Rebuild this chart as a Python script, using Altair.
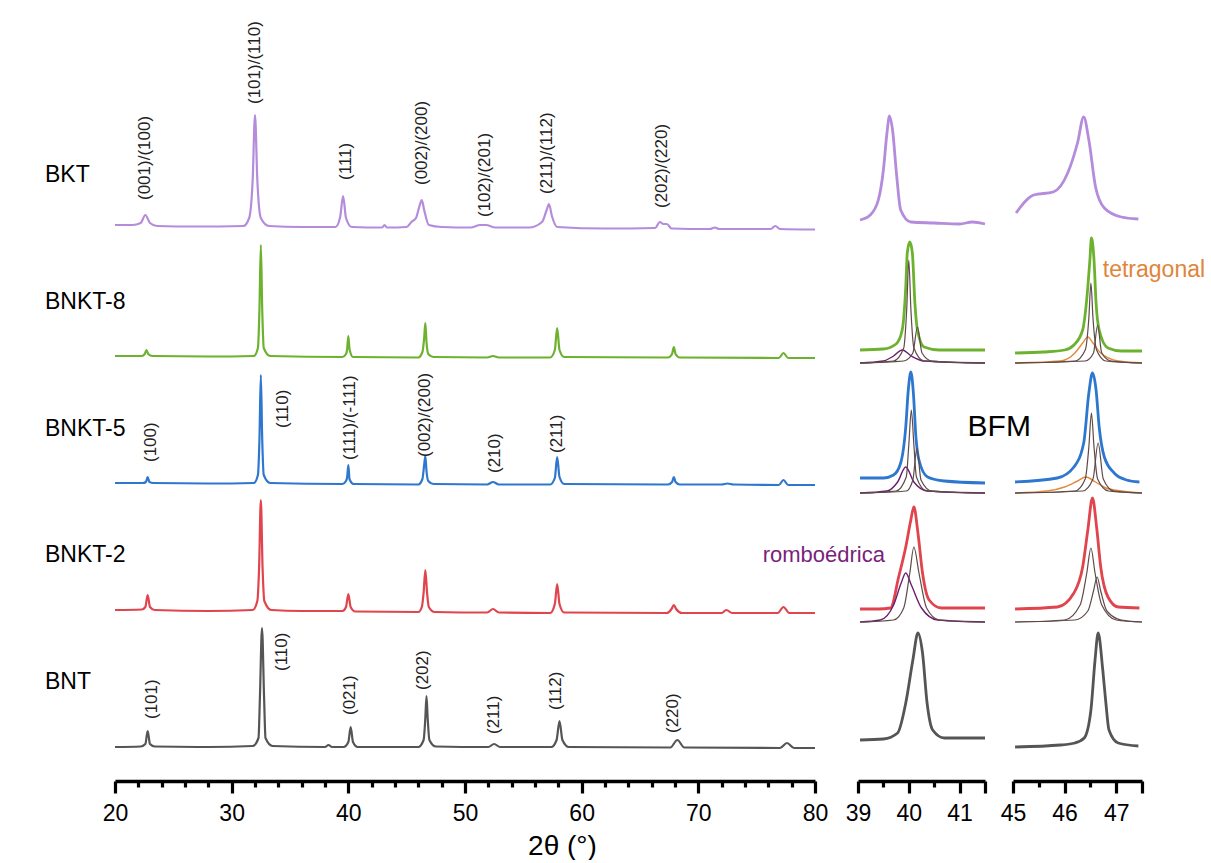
import altair as alt
import pandas as pd

# ---------------- samples ----------------
SAMPLES = ["BKT", "BNKT-8", "BNKT-5", "BNKT-2", "BNT"]
OFFSETS = [518, 390, 263, 135, 0]          # vertical stacking offset (a.u.)
COLORS = ["#b48cdb", "#6db22e", "#2e77cf", "#e0444c", "#555555"]
LABEL_Y = [573, 446, 319, 193, 66]

# ---------------- main panel patterns (2theta, intensity a.u.) ----------------
BKT_X = [20.0, 21.5, 22.2, 22.6, 23.0, 23.6, 27.0, 31.0, 31.5, 31.8, 32.0, 32.2, 32.5, 33.2, 36.0,
         38.9, 39.3, 39.55, 39.8, 40.3, 42.9, 43.1, 43.3, 45.0, 45.4, 45.8, 46.1, 46.3, 46.5, 46.9,
         48.0, 50.5, 51.3, 51.8, 52.6, 55.5, 56.6, 57.0, 57.2, 57.45, 57.9, 62.0, 66.3, 66.7, 67.0,
         67.3, 67.7, 71.0, 71.4, 71.8, 76.2, 76.6, 77.0, 80.0]
BKT_Y = [5, 5, 7, 15, 7, 4, 3.5, 4, 12, 50, 115, 50, 12, 4, 3,
         3, 13, 34, 12, 3, 2.5, 5, 2.5, 3, 8, 12, 24, 30, 20, 5,
         3, 2.5, 5, 5, 2.5, 2.5, 8, 20, 26, 14, 3, 1.5, 2, 8, 6,
         6, 1.5, 1, 2.5, 1, 1, 4, 1, 0.5]

B8_X = [20.0, 22.3, 22.55, 22.7, 22.85, 23.2, 28.0, 31.9, 32.25, 32.38, 32.5, 32.62, 32.75, 33.3,
        39.5, 39.8, 39.9, 40.0, 40.1, 40.4, 46.0, 46.35, 46.5, 46.6, 46.7, 46.85, 47.3, 51.9, 52.4,
        52.9, 57.3, 57.7, 57.9, 58.1, 58.5, 67.4, 67.75, 67.9, 68.05, 68.4, 76.9, 77.3, 77.7, 80.0]
B8_Y = [2, 2, 4, 8, 4, 2, 1.5, 2, 10, 48, 113, 48, 10, 2,
        1, 4, 9, 22, 9, 1, 0.5, 6, 20, 35, 16, 4, 1, 0.5, 2,
        0.5, 0.5, 8, 30, 8, 1, 0.5, 4, 11, 4, 0.5, 0, 5, 0, 0]

B5_X = [20.0, 22.4, 22.65, 22.8, 22.95, 23.3, 28.0, 31.9, 32.25, 32.38, 32.5, 32.62, 32.75, 33.3,
        39.5, 39.8, 39.9, 40.0, 40.1, 40.45, 46.0, 46.35, 46.5, 46.6, 46.7, 46.85, 47.3, 51.9, 52.4,
        52.9, 57.3, 57.7, 57.9, 58.1, 58.5, 67.4, 67.75, 67.9, 68.05, 68.4, 72.0, 72.5, 73.0, 76.9,
        77.3, 77.7, 80.0]
B5_Y = [2, 2, 3, 8, 3, 2, 1.5, 2, 10, 45, 110, 45, 10, 2,
        1, 4, 8, 20, 6, 1, 0.5, 6, 20, 29, 14, 4, 1, 0.5, 3,
        0.5, 0.5, 7, 28, 8, 1, 0.5, 3, 8, 3, 0.5, 0.5, 1.5, 0.5, 0,
        5, 0, 0]

B2_X = [20.0, 22.3, 22.6, 22.8, 23.0, 23.4, 28.0, 31.8, 32.2, 32.35, 32.5, 32.65, 32.8, 33.4, 36.0,
        39.5, 39.8, 40.0, 40.2, 40.6, 46.0, 46.3, 46.45, 46.6, 46.75, 46.9, 47.4, 51.9, 52.4, 52.9,
        57.3, 57.7, 57.9, 58.1, 58.5, 67.3, 67.7, 67.9, 68.1, 68.6, 72.0, 72.4, 72.9, 76.8, 77.3,
        77.8, 80.0]
B2_Y = [3, 3.5, 6, 18, 6, 3, 2, 3, 12, 45, 113, 45, 12, 3, 2,
        2, 6, 19, 6, 1.5, 1, 6, 20, 43, 20, 6, 1, 0.5, 4, 0.5,
        0, 9, 29, 9, 0.5, 0, 4, 8, 4, 0, 0, 3, 0, 0, 6,
        0, 0]

BNT_X = [20.0, 22.2, 22.6, 22.8, 23.0, 23.4, 28.0, 31.8, 32.3, 32.42, 32.6, 32.78, 32.9, 33.5,
         38.0, 38.3, 38.6, 39.6, 40.0, 40.2, 40.4, 40.8, 46.0, 46.45, 46.6, 46.7, 46.8, 46.95, 47.5,
         52.0, 52.5, 53.0, 57.4, 57.85, 58.1, 58.35, 58.9, 67.6, 68.2, 68.8, 77.0, 77.6, 78.2, 80.0]
BNT_Y = [1, 1.5, 4, 17, 4, 1.5, 1, 2, 10, 50, 120, 50, 10, 2,
         1, 3, 1, 1, 6, 21, 6, 1, 1, 8, 30, 52, 30, 8, 1.5,
         1, 4, 1, 1, 8, 27, 8, 1, 0.5, 8, 0.5, 0, 5, 0, 0]

# ---------------- zoom panel 1 (39 - 41.5) ----------------
P1_BKT_X = [39.04, 39.24, 39.4, 39.5, 39.57, 39.62, 39.68, 39.76, 39.84, 40.04, 40.5, 41.0, 41.25, 41.5]
P1_BKT_Y = [10, 15, 30, 60, 97, 114, 100, 55, 20, 8, 7, 6, 8, 6]
P1_B8_X = [39.04, 39.5, 39.75, 39.87, 39.94, 39.97, 40.02, 40.07, 40.12, 40.17, 40.3, 40.6, 41.0, 41.5]
P1_B8_Y = [8, 9, 14, 28, 71, 105, 116, 105, 55, 28, 11, 8, 8, 8]
P1_B8_R_X = [39.04, 39.5, 39.7, 39.87, 40.05, 40.3, 41.5]
P1_B8_R_Y = [-5, -3, 2, 8, 2, -3, -5]
P1_B8_G1_X = [39.04, 39.7, 39.9, 39.96, 40.0, 40.04, 40.1, 40.3, 41.5]
P1_B8_G1_Y = [-5, -3, 10, 50, 98, 50, 10, -3, -5]
P1_B8_G2_X = [39.04, 39.9, 40.08, 40.17, 40.26, 40.45, 41.5]
P1_B8_G2_Y = [-5, -3, 5, 31, 5, -3, -5]
P1_B5_X = [39.04, 39.5, 39.7, 39.84, 39.94, 39.99, 40.04, 40.09, 40.14, 40.2, 40.37, 40.7, 41.5]
P1_B5_Y = [7, 7, 10, 22, 58, 95, 113, 92, 48, 25, 8, 4, 2]
P1_B5_R_X = [39.04, 39.57, 39.78, 39.94, 40.1, 40.37, 41.5]
P1_B5_R_Y = [-8, -6, 3, 18, 3, -6, -8]
P1_B5_G1_X = [39.04, 39.75, 39.95, 40.0, 40.05, 40.1, 40.15, 40.35, 41.5]
P1_B5_G1_Y = [-8, -6, 8, 40, 75, 40, 8, -6, -8]
P1_B5_G2_X = [39.04, 39.95, 40.08, 40.16, 40.24, 40.45, 41.5]
P1_B5_G2_Y = [-8, -6, 5, 37, 5, -6, -8]
P1_B2_X = [39.04, 39.4, 39.64, 39.8, 39.94, 40.04, 40.1, 40.18, 40.27, 40.4, 40.64, 41.0, 41.5]
P1_B2_Y = [4, 4, 5, 36, 66, 93, 106, 80, 40, 13, 5, 5, 5]
P1_B2_R_X = [39.04, 39.44, 39.7, 39.85, 39.94, 40.05, 40.25, 40.57, 41.5]
P1_B2_R_Y = [-9, -7, 8, 30, 40, 28, 5, -7, -9]
P1_B2_G1_X = [39.04, 39.7, 39.9, 40.02, 40.1, 40.2, 40.35, 40.6, 41.5]
P1_B2_G1_Y = [-9, -7, 5, 40, 66, 40, 5, -7, -9]
P1_BNT_X = [39.04, 39.5, 39.78, 39.94, 40.08, 40.18, 40.27, 40.36, 40.47, 40.7, 41.5]
P1_BNT_Y = [8, 9, 15, 45, 88, 115, 95, 45, 18, 10, 10]

# ---------------- zoom panel 2 (45 - 47.5) ----------------
P2_BKT_X = [45.06, 45.4, 45.78, 46.06, 46.25, 46.37, 46.47, 46.6, 46.77, 47.1, 47.43]
P2_BKT_Y = [17, 35, 38, 57, 87, 113, 90, 43, 22, 13, 11]
P2_B8_X = [45.04, 45.6, 46.0, 46.18, 46.35, 46.45, 46.49, 46.52, 46.57, 46.61, 46.67, 46.84, 47.1, 47.5]
P2_B8_Y = [5, 6, 8, 13, 28, 71, 98, 120, 98, 55, 28, 10, 7, 7]
P2_B8_T_X = [45.04, 45.92, 46.2, 46.35, 46.45, 46.55, 46.7, 47.04, 47.5]
P2_B8_T_Y = [-5, -3, 5, 15, 21, 15, 5, -3, -5]
P2_B8_G1_X = [45.04, 46.2, 46.4, 46.47, 46.51, 46.55, 46.62, 46.8, 47.5]
P2_B8_G1_Y = [-5, -3, 8, 40, 75, 40, 8, -3, -5]
P2_B8_G2_X = [45.04, 46.4, 46.56, 46.64, 46.72, 46.9, 47.5]
P2_B8_G2_Y = [-5, -3, 5, 33, 5, -3, -5]
P2_B5_X = [45.04, 45.86, 46.18, 46.37, 46.47, 46.54, 46.61, 46.67, 46.77, 46.96, 47.2, 47.45]
P2_B5_Y = [3, 7, 18, 42, 92, 112, 95, 58, 28, 12, 5, 3]
P2_B5_T_X = [45.04, 45.66, 46.0, 46.25, 46.41, 46.6, 46.8, 47.1, 47.5]
P2_B5_T_Y = [-8, -6, -2, 4, 8, 3, -3, -6, -8]
P2_B5_G1_X = [45.04, 46.2, 46.4, 46.47, 46.52, 46.57, 46.64, 46.85, 47.5]
P2_B5_G1_Y = [-8, -6, 6, 38, 72, 38, 6, -6, -8]
P2_B5_G2_X = [45.04, 46.35, 46.55, 46.65, 46.75, 46.95, 47.5]
P2_B5_G2_Y = [-8, -6, 6, 42, 6, -6, -8]
P2_B2_X = [45.04, 45.86, 46.18, 46.35, 46.45, 46.54, 46.62, 46.7, 46.84, 47.04, 47.45]
P2_B2_Y = [4, 6, 20, 46, 83, 115, 86, 46, 16, 6, 5]
P2_B2_G1_X = [45.04, 46.0, 46.3, 46.43, 46.51, 46.59, 46.72, 47.0, 47.5]
P2_B2_G1_Y = [-9, -7, 8, 40, 65, 40, 8, -7, -9]
P2_B2_G2_X = [45.04, 46.2, 46.45, 46.56, 46.63, 46.7, 46.82, 47.1, 47.5]
P2_B2_G2_Y = [-9, -7, 2, 22, 36, 22, 2, -7, -9]
P2_BNT_X = [45.04, 45.92, 46.2, 46.38, 46.51, 46.59, 46.65, 46.74, 46.8, 46.86, 47.04, 47.43]
P2_BNT_Y = [1, 3, 5, 10, 38, 88, 115, 78, 45, 18, 5, 2]

# ---------------- peak (hkl) labels ----------------
BKT_HKL = ["(001)/(100)", "(101)/(110)", "(111)", "(002)/(200)", "(102)/(201)", "(211)/(112)", "(202)/(220)"]
BKT_HKL_X = [22.6, 32.0, 39.8, 46.3, 51.7, 57.0, 66.9]
BKT_HKL_Y = [548, 644, 568, 563, 531, 554, 540]
B5_HKL = ["(100)", "(110)", "(111)/(-111)", "(002)/(200)", "(210)", "(211)"]
B5_HKL_X = [23.1, 34.4, 40.1, 46.6, 52.6, 57.85]
B5_HKL_Y = [286, 320, 288, 291, 275, 295]
BNT_HKL = ["(101)", "(110)", "(021)", "(202)", "(211)", "(112)", "(220)"]
BNT_HKL_X = [23.2, 34.3, 40.1, 46.4, 52.5, 57.8, 67.8]
BNT_HKL_Y = [29, 77, 33, 58, 14, 38, 15]

RHOMBO_COLOR = "#6b1d6e"
TETRA_COLOR = "#e3893a"
FIT_COLOR = "#5e4b49"

FONT = "Liberation Sans"

# ---------------- build tables ----------------
def sample_color(s):
    return COLORS[SAMPLES.index(s)]

CURVES = [
    ("main", "BKT", "trace", BKT_X, BKT_Y),
    ("main", "BNKT-8", "trace", B8_X, B8_Y),
    ("main", "BNKT-5", "trace", B5_X, B5_Y),
    ("main", "BNKT-2", "trace", B2_X, B2_Y),
    ("main", "BNT", "trace", BNT_X, BNT_Y),
    ("p1", "BKT", "trace", P1_BKT_X, P1_BKT_Y),
    ("p1", "BNKT-8", "trace", P1_B8_X, P1_B8_Y),
    ("p1", "BNKT-8", "rhombo", P1_B8_R_X, P1_B8_R_Y),
    ("p1", "BNKT-8", "fit1", P1_B8_G1_X, P1_B8_G1_Y),
    ("p1", "BNKT-8", "fit2", P1_B8_G2_X, P1_B8_G2_Y),
    ("p1", "BNKT-5", "trace", P1_B5_X, P1_B5_Y),
    ("p1", "BNKT-5", "rhombo", P1_B5_R_X, P1_B5_R_Y),
    ("p1", "BNKT-5", "fit1", P1_B5_G1_X, P1_B5_G1_Y),
    ("p1", "BNKT-5", "fit2", P1_B5_G2_X, P1_B5_G2_Y),
    ("p1", "BNKT-2", "trace", P1_B2_X, P1_B2_Y),
    ("p1", "BNKT-2", "rhombo", P1_B2_R_X, P1_B2_R_Y),
    ("p1", "BNKT-2", "fit1", P1_B2_G1_X, P1_B2_G1_Y),
    ("p1", "BNT", "trace", P1_BNT_X, P1_BNT_Y),
    ("p2", "BKT", "trace", P2_BKT_X, P2_BKT_Y),
    ("p2", "BNKT-8", "trace", P2_B8_X, P2_B8_Y),
    ("p2", "BNKT-8", "tetra", P2_B8_T_X, P2_B8_T_Y),
    ("p2", "BNKT-8", "fit1", P2_B8_G1_X, P2_B8_G1_Y),
    ("p2", "BNKT-8", "fit2", P2_B8_G2_X, P2_B8_G2_Y),
    ("p2", "BNKT-5", "trace", P2_B5_X, P2_B5_Y),
    ("p2", "BNKT-5", "tetra", P2_B5_T_X, P2_B5_T_Y),
    ("p2", "BNKT-5", "fit1", P2_B5_G1_X, P2_B5_G1_Y),
    ("p2", "BNKT-5", "fit2", P2_B5_G2_X, P2_B5_G2_Y),
    ("p2", "BNKT-2", "trace", P2_B2_X, P2_B2_Y),
    ("p2", "BNKT-2", "fit1", P2_B2_G1_X, P2_B2_G1_Y),
    ("p2", "BNKT-2", "fit2", P2_B2_G2_X, P2_B2_G2_Y),
    ("p2", "BNT", "trace", P2_BNT_X, P2_BNT_Y),
]

rows = []
for panel, sample, kind, xs, ys in CURVES:
    off = OFFSETS[SAMPLES.index(sample)]
    if kind == "trace":
        col = sample_color(sample)
        sw = 2.2 if panel == "main" else 2.8
        layer = 0
    elif kind == "rhombo":
        col, sw, layer = RHOMBO_COLOR, 1.4, 1
    elif kind == "tetra":
        col, sw, layer = TETRA_COLOR, 1.4, 1
    else:
        col, sw, layer = FIT_COLOR, 1.2, 1
    for xv, yv in zip(xs, ys):
        rows.append(dict(panel=panel, curve=f"{panel}-{sample}-{kind}", theta=xv,
                         val=off + yv, col=col, sw=sw, layer=layer))
df = pd.DataFrame(rows)

side_df = pd.DataFrame({"label": SAMPLES, "theta": [14.0] * 5, "val": LABEL_Y})

hkl_rows = []
for labels, xs, ys in [(BKT_HKL, BKT_HKL_X, BKT_HKL_Y), (B5_HKL, B5_HKL_X, B5_HKL_Y),
                       (BNT_HKL, BNT_HKL_X, BNT_HKL_Y)]:
    for l, xv, yv in zip(labels, xs, ys):
        hkl_rows.append(dict(label=l, theta=xv, val=yv))
hkl_df = pd.DataFrame(hkl_rows)

YSCALE = alt.Scale(domain=[-33, 748], nice=False, zero=False)
HEIGHT = 781


def make_axis(values, major_test, label_test, title_kw):
    return alt.Axis(
        values=values,
        labelExpr=f"{label_test} ? format(datum.value, 'd') : ''",
        tickSize={"condition": {"test": major_test, "value": 12}, "value": 6},
        tickWidth=3.2, tickColor="black",
        domainWidth=3.5, domainColor="black",
        labelFont=FONT, labelFontSize=23, labelColor="black",
        labelPadding=9, labelFlush=False, labelOverlap=False,
        grid=False,
        **title_kw,
    )


def panel_chart(name, domain, axis):
    x = alt.X("theta:Q", scale=alt.Scale(domain=domain, nice=False, zero=False), axis=axis)
    y = alt.Y("val:Q", scale=YSCALE, axis=None)
    d = df[df.panel == name]
    layers = []
    for lay in (0, 1):
        sub = d[d.layer == lay]
        if len(sub):
            layers.append(alt.Chart(sub).mark_line(strokeJoin="round", interpolate="monotone").encode(
                x=x, y=y,
                color=alt.Color("col:N", scale=None),
                strokeWidth=alt.StrokeWidth("sw:Q", scale=None),
                detail="curve:N",
            ))
    return layers, x, y


main_axis = make_axis(list(range(20, 81, 2)), "datum.value % 10 === 0", "datum.value % 10 === 0",
                      dict(title="2θ (°)", titleFont=FONT, titleFontSize=28, titleFontWeight="normal",
                           titleColor="black", titleX=447, titleY=51, titleAlign="center",
                           titleBaseline="top"))
p1_axis = make_axis([39, 39.5, 40, 40.5, 41, 41.5], "datum.value % 1 === 0 || datum.value >= 41.5",
                    "datum.value % 1 === 0", dict(title=None))
p2_axis = make_axis([45, 45.5, 46, 46.5, 47, 47.5], "datum.value % 1 === 0 || datum.value >= 47.5",
                    "datum.value % 1 === 0", dict(title=None))

# main panel
m_layers, mx, my = panel_chart("main", [20, 80], main_axis)
side_text = alt.Chart(side_df).mark_text(align="left", baseline="middle", font=FONT,
                                         fontSize=23, color="black").encode(x=mx, y=my, text="label:N")
hkl_text = alt.Chart(hkl_df).mark_text(angle=270, align="left", baseline="middle", font=FONT,
                                       fontSize=17, color="#222222").encode(x=mx, y=my, text="label:N")
main = alt.layer(*m_layers, side_text, hkl_text).properties(width=700, height=HEIGHT)

# zoom panel 1
p1_layers, p1x, p1y = panel_chart("p1", [39, 41.5], p1_axis)
p1_notes = pd.DataFrame({"label": ["romboédrica"], "theta": [39.53], "val": [193]})
bfm = pd.DataFrame({"label": ["BFM"], "theta": [41.78], "val": [321]})
p1_t1 = alt.Chart(p1_notes).mark_text(align="right", baseline="middle", font=FONT, fontSize=22,
                                      color="#7a1f7a").encode(x=p1x, y=p1y, text="label:N")
p1_t2 = alt.Chart(bfm).mark_text(align="center", baseline="middle", font=FONT, fontSize=30,
                                 color="black").encode(x=p1x, y=p1y, text="label:N")
p1 = alt.layer(*p1_layers, p1_t1, p1_t2).properties(width=127, height=HEIGHT)

# zoom panel 2
p2_layers, p2x, p2y = panel_chart("p2", [45, 47.5], p2_axis)
p2_notes = pd.DataFrame({"label": ["tetragonal"], "theta": [46.74], "val": [478]})
p2_t = alt.Chart(p2_notes).mark_text(align="left", baseline="middle", font=FONT, fontSize=23,
                                     color="#e0853a").encode(x=p2x, y=p2y, text="label:N")
p2 = alt.layer(*p2_layers, p2_t).properties(width=129, height=HEIGHT)

chart = alt.hconcat(
    main,
    alt.hconcat(p1, p2, spacing=28, bounds="flush"),
    spacing=43, bounds="flush",
).properties(
    padding={"left": 45, "top": 0, "right": 0, "bottom": 0},
    background="white",
).configure_view(stroke=None)

chart.save("out.html", embed_options={"renderer": "svg", "actions": False})
